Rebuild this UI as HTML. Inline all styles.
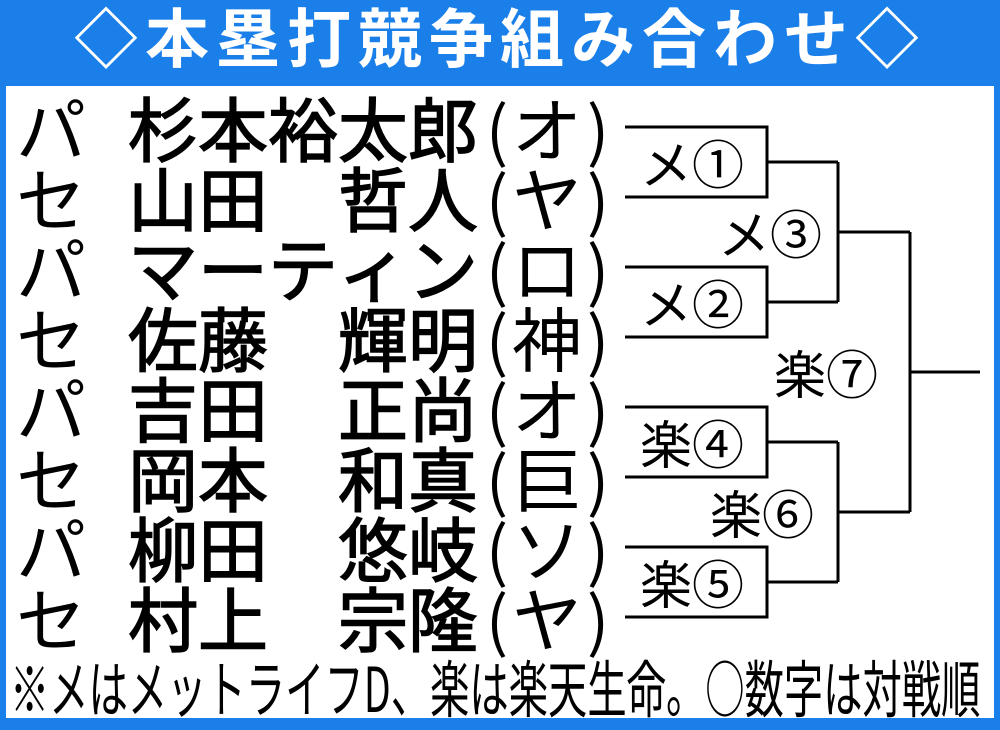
<!DOCTYPE html>
<html><head><meta charset="utf-8"><style>
body{margin:0;width:1000px;height:726px;background:#1a7fe8;position:relative;overflow:hidden;font-family:"Liberation Sans","Noto Sans CJK JP",sans-serif}
.panel{position:absolute;left:6px;top:86px;width:988px;height:632px;background:#fff}
.title{position:absolute;left:0;top:0;width:1000px;height:84px;color:#fff;font-size:64px;font-weight:bold;text-align:center;line-height:80px;letter-spacing:7px;white-space:nowrap}
.c{position:absolute;font-size:70px;line-height:70px;height:70px;text-align:center;color:#000;font-weight:normal;-webkit-text-stroke:1.5px #000;font-family:"Noto Sans CJK JP",sans-serif}
.p{font-size:66px;-webkit-text-stroke:0}
.k{-webkit-text-stroke:0}
.l{position:absolute;font-size:52px;line-height:56px;color:#000;white-space:nowrap;font-family:"Noto Sans CJK JP",sans-serif}
.foot{position:absolute;left:10px;top:650px;font-size:62px;line-height:70px;white-space:nowrap;transform:scaleX(0.634);transform-origin:0 0;color:#000;font-family:"Noto Sans CJK JP",sans-serif}
svg{position:absolute;left:0;top:0}
</style></head><body>
<div class="title">◇本塁打競争組み合わせ◇</div>
<div class="panel"></div>
<div id="rows"></div>
<svg width="1000" height="726"><g stroke="#000" stroke-width="3" fill="none">
<path d="M625 127H767V197H625M767 162H838"/>
<path d="M625 267H767V337H625M767 302H838"/>
<path d="M625 407H767V477H625M767 442H838"/>
<path d="M625 547H767V617H625M767 582H838"/>
<path d="M838 162V302M838 232H910"/>
<path d="M838 442V582M838 512H910"/>
<path d="M910 232V512M910 372H980"/>
</g></svg>
<div class="l" style="left:640px;top:134px">メ①</div>
<div class="l" style="left:640px;top:274px">メ②</div>
<div class="l" style="left:718px;top:204px">メ③</div>
<div class="l" style="left:640px;top:414px">楽④</div>
<div class="l" style="left:640px;top:554px">楽⑤</div>
<div class="l" style="left:710px;top:484px">楽⑥</div>
<div class="l" style="left:774px;top:344px">楽⑦</div>
<div class="foot">※メはメットライフD、楽は楽天生命。○数字は対戦順</div>
<script>
var d=[["パ","杉本裕太郎","オ"],["セ","山田 哲人","ヤ"],["パ","マーティン","ロ"],["セ","佐藤 輝明","神"],["パ","吉田 正尚","オ"],["セ","岡本 和真","巨"],["パ","柳田 悠岐","ソ"],["セ","村上 宗隆","ヤ"]];
var h="";
d.forEach(function(r,i){var y=92+i*70;
h+='<div class="c k" style="left:16px;top:'+y+'px;width:70px">'+r[0]+'</div>';
var n=r[1];for(var k=0;k<5;k++){var ch=n[k]==" "?"":n[k];h+='<div class="c" style="left:'+(128+k*70)+'px;top:'+y+'px;width:70px">'+ch+'</div>';}
h+='<div class="c p" style="left:480px;top:'+y+'px;width:34px">(</div>';
h+='<div class="c k" style="left:512px;top:'+y+'px;width:70px">'+r[2]+'</div>';
h+='<div class="c p" style="left:581px;top:'+y+'px;width:34px">)</div>';
});
document.getElementById("rows").innerHTML=h;
</script>
</body></html>
